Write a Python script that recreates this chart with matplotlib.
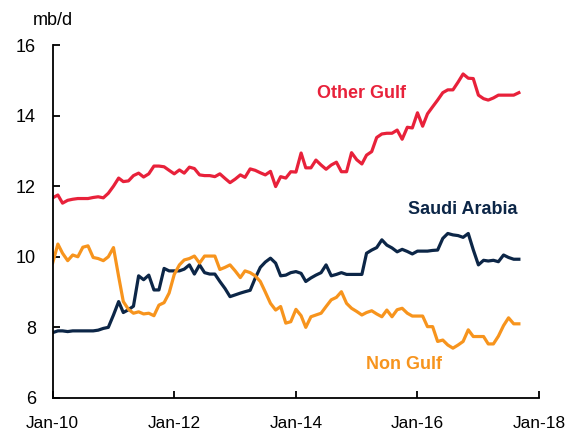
import numpy as np
import pandas as pd
import matplotlib
matplotlib.use("Agg")
import matplotlib.pyplot as plt
import matplotlib.dates as mdates

plt.rcParams['font.family'] = ['Liberation Sans', 'DejaVu Sans']

# monthly data, Jan-10 .. Sep-17 (mb/d)
months = pd.date_range("2010-01-01", periods=93, freq="MS")

other_gulf = [11.67, 11.75, 11.52, 11.6, 11.63, 11.65, 11.65, 11.65, 11.68, 11.7,
              11.67, 11.8, 12.0, 12.23, 12.13, 12.15, 12.3, 12.37, 12.26, 12.35,
              12.57, 12.57, 12.55, 12.45, 12.35, 12.46, 12.37, 12.54, 12.5, 12.32,
              12.3, 12.3, 12.27, 12.35, 12.22, 12.1, 12.2, 12.32, 12.25, 12.49,
              12.45, 12.38, 12.32, 12.42, 11.99, 12.27, 12.23, 12.41, 12.4, 12.94,
              12.52, 12.52, 12.74, 12.6, 12.48, 12.6, 12.68, 12.41, 12.41, 12.95,
              12.75, 12.63, 12.88, 12.98, 13.38, 13.48, 13.5, 13.5, 13.59, 13.33,
              13.67, 13.65, 14.08, 13.7, 14.05, 14.25, 14.44, 14.65, 14.73, 14.73,
              14.95, 15.18, 15.06, 15.05, 14.58, 14.48, 14.44, 14.5, 14.58, 14.58,
              14.58, 14.58, 14.65]

saudi = [7.85, 7.9, 7.9, 7.88, 7.9, 7.9, 7.9, 7.9, 7.9, 7.92,
         7.97, 8.0, 8.35, 8.73, 8.42, 8.5, 8.6, 9.46, 9.35, 9.48,
         9.06, 9.06, 9.67, 9.6, 9.6, 9.6, 9.65, 9.77, 9.51, 9.77,
         9.55, 9.51, 9.51, 9.3, 9.1, 8.87, 8.92, 8.97, 9.01, 9.05,
         9.39, 9.7, 9.85, 9.96, 9.82, 9.46, 9.48, 9.55, 9.58, 9.53,
         9.3, 9.4, 9.48, 9.55, 9.77, 9.46, 9.5, 9.55, 9.5, 9.5,
         9.5, 9.5, 10.1, 10.19, 10.26, 10.48, 10.33, 10.25, 10.14, 10.21,
         10.15, 10.08, 10.16, 10.16, 10.16, 10.18, 10.19, 10.52, 10.66, 10.62,
         10.6, 10.55, 10.66, 10.2, 9.77, 9.9, 9.88, 9.9, 9.86, 10.05,
         9.98, 9.93, 9.93]

non_gulf = [9.83, 10.36, 10.1, 9.89, 10.05, 10.0, 10.27, 10.31, 9.98, 9.95,
            9.89, 10.0, 10.26, 9.44, 8.73, 8.51, 8.4, 8.44, 8.38, 8.4,
            8.33, 8.63, 8.7, 8.97, 9.5, 9.77, 9.91, 9.95, 10.02, 9.82,
            10.02, 10.02, 10.02, 9.64, 9.7, 9.77, 9.6, 9.41, 9.6, 9.55,
            9.46, 9.3, 9.0, 8.68, 8.49, 8.59, 8.12, 8.16, 8.51, 8.33,
            8.0, 8.3, 8.35, 8.4, 8.59, 8.78, 8.85, 9.01, 8.68, 8.54,
            8.45, 8.35, 8.42, 8.47, 8.38, 8.3, 8.49, 8.3, 8.5, 8.54,
            8.4, 8.32, 8.32, 8.32, 8.02, 8.02, 7.6, 7.64, 7.5, 7.41,
            7.5, 7.6, 7.93, 7.74, 7.74, 7.74, 7.53, 7.53, 7.75, 8.05,
            8.27, 8.1, 8.1]

red = "#E8213A"
navy = "#0C2647"
orange = "#F7941D"

fig = plt.figure(figsize=(5.65, 4.33), dpi=100)
ax = fig.add_axes([0.0933, 0.081, 0.861, 0.815])

ax.plot(months, other_gulf, color=red, lw=2.3)
ax.plot(months, saudi, color=navy, lw=2.3)
ax.plot(months, non_gulf, color=orange, lw=2.3)

ax.set_xlim(pd.Timestamp("2010-01-01"), pd.Timestamp("2018-01-01"))
ax.set_ylim(6, 16)
ax.set_yticks([6, 8, 10, 12, 14, 16])
ax.set_xticks(pd.to_datetime(["2010-01-01", "2012-01-01", "2014-01-01",
                              "2016-01-01", "2018-01-01"]))
ax.xaxis.set_major_formatter(mdates.DateFormatter("%b-%y"))

for s in ["top", "right"]:
    ax.spines[s].set_visible(False)
for s in ["left", "bottom"]:
    ax.spines[s].set_linewidth(1.3)
ax.tick_params(axis="y", direction="in", length=5, width=1.3, pad=12, labelsize=13)
ax.tick_params(axis="x", direction="in", length=5, width=1.3, pad=13, labelsize=12.4)

ax.text(0.0, 1.07, "mb/d", transform=ax.transAxes, ha="center", va="center", fontsize=13)

# series labels
ax.text(pd.Timestamp("2015-02-01"), 14.64, "Other Gulf", color=red, fontsize=13,
        fontweight="bold", ha="center", va="center")
ax.text(pd.Timestamp("2016-10-01"), 11.35, "Saudi Arabia", color=navy, fontsize=13,
        fontweight="bold", ha="center", va="center")
ax.text(pd.Timestamp("2015-10-15"), 6.95, "Non Gulf", color=orange, fontsize=13,
        fontweight="bold", ha="center", va="center")

fig.savefig("out.png", dpi=100)
